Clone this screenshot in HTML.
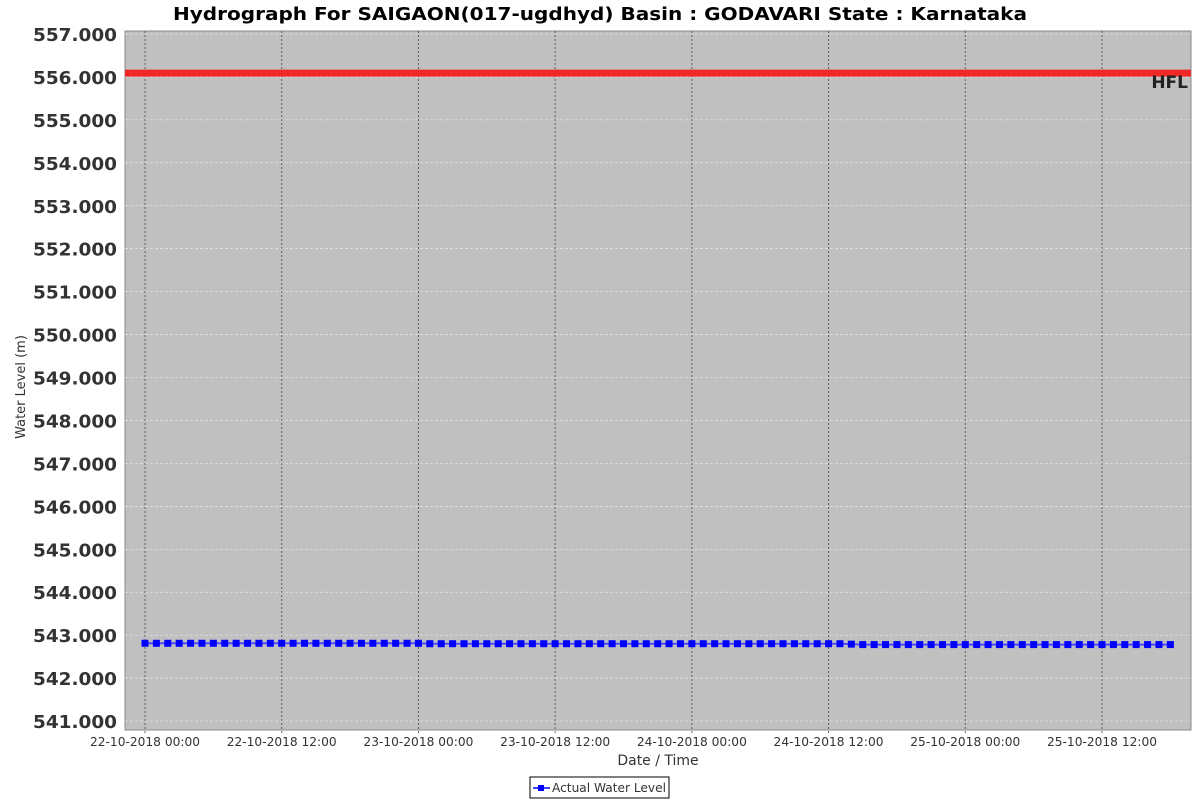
<!DOCTYPE html>
<html><head><meta charset="utf-8"><style>
body{margin:0;background:#fff;width:1200px;height:800px;overflow:hidden;font-family:"DejaVu Sans","Liberation Sans",sans-serif}
svg text{font-family:"DejaVu Sans","Liberation Sans",sans-serif}
</style></head><body>
<svg id="c" width="1200" height="800" xmlns="http://www.w3.org/2000/svg"></svg>
<script>
const yTicks=[541,542,543,544,545,546,547,548,549,550,551,552,553,554,555,556,557];
const xTickHours=[0,12,24,36,48,60,72,84];
const xTickLabels=["22-10-2018 00:00","22-10-2018 12:00","23-10-2018 00:00","23-10-2018 12:00","24-10-2018 00:00","24-10-2018 12:00","25-10-2018 00:00","25-10-2018 12:00"];
const hfl=556.09;
const levels=[542.81,542.81,542.81,542.81,542.81,542.81,542.81,542.81,542.81,542.81,542.81,542.81,542.81,542.81,542.81,542.81,542.81,542.81,542.81,542.81,542.81,542.81,542.81,542.81,542.81,542.8,542.8,542.8,542.8,542.8,542.8,542.8,542.8,542.8,542.8,542.8,542.8,542.8,542.8,542.8,542.8,542.8,542.8,542.8,542.8,542.8,542.8,542.8,542.8,542.8,542.8,542.8,542.8,542.8,542.8,542.8,542.8,542.8,542.8,542.8,542.8,542.8,542.79,542.78,542.78,542.78,542.78,542.78,542.78,542.78,542.78,542.78,542.78,542.78,542.78,542.78,542.78,542.78,542.78,542.78,542.78,542.78,542.78,542.78,542.78,542.78,542.78,542.78,542.78,542.78,542.78];
const NS="http://www.w3.org/2000/svg",svg=document.getElementById('c');
const L=125,R=1191,T=31,B=730;
const y=v=>34+(557-v)*(721-34)/16;
const x=h=>145+h*(1102-145)/84;
function mk(t,a,p){const e=document.createElementNS(NS,t);for(const k in a)e.setAttribute(k,a[k]);(p||svg).appendChild(e);return e;}
let e=mk('text',{x:173,y:20,'font-size':18,'font-weight':'bold',fill:'#000',textLength:854,lengthAdjust:'spacingAndGlyphs'});e.textContent="Hydrograph For SAIGAON(017-ugdhyd) Basin : GODAVARI State : Karnataka";


e=mk('rect',{x:L,y:T,width:R-L,height:B-T,fill:'#c0c0c0',stroke:'#888'});


yTicks.forEach(v=>{
 e=mk('line',{x1:L,x2:R,y1:y(v),y2:y(v),stroke:'#eee','stroke-dasharray':'3,2','stroke-width':0.6});
 
 
 e=mk('text',{x:33,y:y(v)+7,'font-size':18,'font-weight':'bold',fill:'#333',textLength:84,lengthAdjust:'spacingAndGlyphs'});e.textContent=v.toFixed(3);
 
 
});
xTickHours.forEach((h,i)=>{
 e=mk('line',{x1:x(h),x2:x(h),y1:T,y2:B+4,stroke:'#555','stroke-dasharray':'2,2','stroke-width':0.9});
 
 
 e=mk('text',{x:x(h),y:746,'text-anchor':'middle','font-size':12,fill:'#333',textLength:110,lengthAdjust:'spacingAndGlyphs'});e.textContent=xTickLabels[i];
 
 
});
e=mk('line',{x1:L,x2:R,y1:y(hfl),y2:y(hfl),stroke:'#f02828','stroke-width':7});


e=mk('text',{x:1188,y:y(hfl)+15,'text-anchor':'end','font-size':17,'font-weight':'bold',fill:'#222'});e.textContent="HFL";


e=mk('polyline',{points:levels.map((v,i)=>x(i)+','+y(v)).join(' '),fill:'none',stroke:'#4a4aff','stroke-width':2});


levels.forEach((v,i)=>{
 e=mk('rect',{x:x(i)-3.5,y:y(v)-3.5,width:7,height:7,fill:'#0000ff'});
 
 
});
e=mk('text',{x:658,y:765,'text-anchor':'middle','font-size':14,fill:'#333'});e.textContent="Date / Time";


e=mk('text',{x:0,y:0,'text-anchor':'middle','font-size':13,fill:'#333',transform:'translate(25,387) rotate(-90)'});e.textContent="Water Level (m)";


const g=mk('g',{});


mk('rect',{x:530,y:777,width:139,height:21,fill:'#fff',stroke:'#000'},g);
mk('line',{x1:533,x2:550,y1:788,y2:788,stroke:'#0000ff','stroke-width':1.5},g);
mk('rect',{x:538,y:785,width:6,height:6,fill:'#0000ff'},g);
e=mk('text',{x:552,y:792,'font-size':12,fill:'#333',textLength:114,lengthAdjust:'spacingAndGlyphs'},g);e.textContent="Actual Water Level";
</script>
</body></html>
